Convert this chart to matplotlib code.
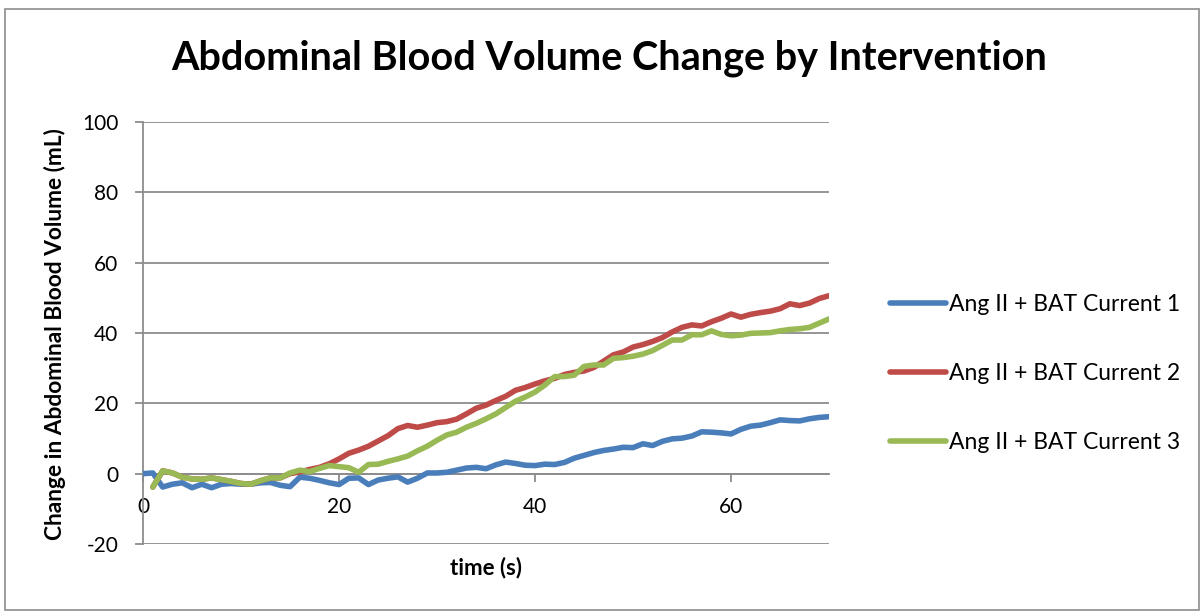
import matplotlib.pyplot as plt
import numpy as np
from matplotlib.patches import Rectangle

plt.rcParams['font.family'] = ['Lato', 'DejaVu Sans']
plt.rcParams['axes.unicode_minus'] = False

time_s = np.arange(0, 71)

current_1 = [0.0, 0.2, -3.8, -3.0, -2.6, -4.0, -3.0, -4.0, -3.0, -2.8,
             -3.0, -3.0, -2.6, -2.5, -3.3, -3.7, -1.0, -1.3, -1.9, -2.6,
             -3.1, -1.3, -1.2, -3.1, -1.8, -1.3, -0.9, -2.4, -1.3, 0.2,
             0.2, 0.4, 1.0, 1.6, 1.8, 1.4, 2.5, 3.3, 2.9, 2.4,
             2.3, 2.7, 2.6, 3.2, 4.4, 5.2, 6.0, 6.6, 7.0, 7.5,
             7.4, 8.5, 8.0, 9.2, 9.9, 10.1, 10.7, 11.9, 11.8, 11.6,
             11.3, 12.6, 13.5, 13.8, 14.5, 15.3, 15.1, 15.0, 15.6, 16.0,
             16.2]

current_2 = [np.nan, -3.8, 0.8, 0.2, -1.0, -1.5, -1.6, -1.2, -1.7, -2.2,
             -2.8, -3.0, -2.0, -1.2, -1.2, 0.0, 0.5, 1.2, 1.8, 2.8,
             4.2, 5.8, 6.7, 7.8, 9.3, 10.8, 12.8, 13.7, 13.2, 13.8,
             14.5, 14.8, 15.5, 17.0, 18.6, 19.5, 20.8, 22.0, 23.7, 24.5,
             25.5, 26.4, 27.1, 28.2, 28.8, 29.2, 30.2, 32.0, 33.8, 34.6,
             36.0, 36.7, 37.6, 38.7, 40.3, 41.6, 42.3, 42.0, 43.2, 44.2,
             45.4, 44.5, 45.3, 45.8, 46.2, 46.9, 48.3, 47.8, 48.5, 49.8,
             50.6]

current_3 = [np.nan, -3.8, 0.8, 0.2, -1.0, -1.5, -1.6, -1.2, -1.7, -2.2,
             -2.8, -3.0, -2.0, -1.2, -1.2, 0.2, 1.0, 0.6, 1.5, 2.3,
             2.0, 1.7, 0.4, 2.6, 2.7, 3.5, 4.2, 5.0, 6.5, 7.8,
             9.5, 11.0, 11.8, 13.2, 14.3, 15.6, 17.0, 18.8, 20.6, 21.8,
             23.2, 25.2, 27.6, 27.6, 28.0, 30.5, 30.9, 30.9, 32.8, 33.0,
             33.4, 34.0, 35.0, 36.5, 38.0, 38.0, 39.5, 39.5, 40.6, 39.6,
             39.2, 39.4, 39.9, 40.0, 40.1, 40.6, 41.0, 41.2, 41.6, 42.8,
             44.0]

labels = ["Ang II + BAT Current 1", "Ang II + BAT Current 2", "Ang II + BAT Current 3"]
colors = ["#4A7EBB", "#BE4B48", "#98B954"]

fig = plt.figure(figsize=(12.04, 6.12), dpi=100)
ax = fig.add_axes([0.1188, 0.1111, 0.5698, 0.6896])

# outer chart border
fig.patches.append(Rectangle((0.004, 0.003), 0.992, 0.982, transform=fig.transFigure,
                             fill=False, edgecolor="#8c8c8c", linewidth=1.2))

grid_color = "#8c8c8c"
for yv in range(-20, 101, 20):
    ax.axhline(yv, color=grid_color, linewidth=1.3, zorder=1)

for vals, lab, col in zip([current_1, current_2, current_3], labels, colors):
    ax.plot(time_s, vals, color=col, linewidth=4, label=lab, zorder=3,
            solid_capstyle="round", solid_joinstyle="round")

ax.set_xlim(0, 70)
ax.set_ylim(-20, 100)
ax.set_xticks([0, 20, 40, 60])
ax.set_yticks(range(-20, 101, 20))

ax.spines["top"].set_visible(False)
ax.spines["right"].set_visible(False)
ax.spines["left"].set_color(grid_color)
ax.spines["left"].set_linewidth(1.3)
ax.spines["bottom"].set_position(("data", 0))
ax.spines["bottom"].set_color(grid_color)
ax.spines["bottom"].set_linewidth(1.3)
ax.tick_params(axis="both", colors=grid_color, labelcolor="black", labelsize=15,
               length=5.8, width=1.3, direction="out")
ax.tick_params(axis="x", pad=11)
ax.tick_params(axis="y", pad=12)

ax.set_xlabel("time (s)", fontsize=16, fontweight="bold")
ax.xaxis.set_label_coords(0.5, -0.03)
ax.set_ylabel("Change in Abdominal Blood Volume (mL)", fontsize=16.4, fontweight="bold")
ax.yaxis.set_label_coords(-0.112, 0.498)
fig.text(0.506, 0.905, "Abdominal Blood Volume Change by Intervention",
         fontsize=28.5, fontweight="bold", ha="center", va="center")

fig.legend(loc="center left", bbox_to_anchor=(0.739, 0.39), frameon=False,
           fontsize=16.5, handlelength=2.45, handletextpad=0.13, labelspacing=2.1,
           borderpad=0, borderaxespad=0)

fig.savefig("out.png", dpi=100)
